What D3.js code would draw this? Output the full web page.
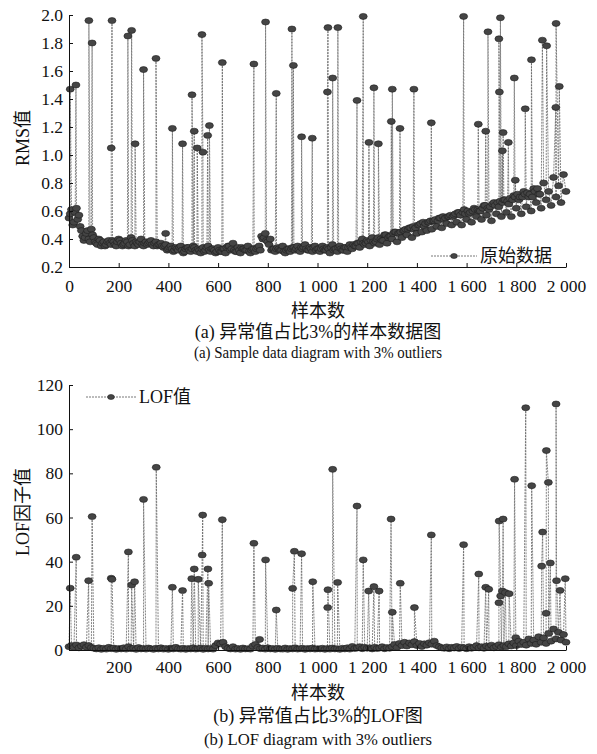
<!DOCTYPE html>
<html>
<head>
<meta charset="utf-8">
<script src="https://cdn.jsdelivr.net/npm/d3@7"></script>
<style>
    body { margin: 0; background: #fff; }
    svg text { font-family: "Liberation Serif", "Times New Roman", "Noto Sans CJK SC", serif; fill: #111; }
</style>
</head>
<body>
<svg id="chart" width="597" height="754"></svg>
<script>
// Baseline RMS values, one every 10 samples (0..2000)
const rmsBase = [
    0.55, 0.61, 0.52, 0.62, 0.57, 0.46, 0.39, 0.44, 0.40, 0.47, 0.41,
    0.37, 0.40, 0.35, 0.38, 0.36,
    0.39, 0.36, 0.38, 0.35, 0.40, 0.37, 0.36, 0.39, 0.35, 0.41, 0.37, 0.38, 0.36, 0.40, 0.35, 0.38, 0.37, 0.39, 0.35, 0.38, 0.36, 0.37, 0.34,
    0.36, 0.33, 0.35, 0.31, 0.34, 0.32, 0.35, 0.30, 0.33, 0.34, 0.31, 0.35, 0.32, 0.33, 0.30, 0.34, 0.32, 0.35, 0.31, 0.33, 0.30, 0.34,
    0.31, 0.33, 0.30, 0.35, 0.32, 0.37, 0.31, 0.34, 0.30, 0.33, 0.32, 0.35, 0.30, 0.33, 0.31, 0.34, 0.32, 0.40, 0.44, 0.38,
    0.40, 0.33, 0.31, 0.34, 0.32, 0.35, 0.30, 0.33, 0.31, 0.34, 0.32, 0.35, 0.31, 0.33, 0.36, 0.32, 0.34, 0.31, 0.35, 0.33,
    0.31, 0.35, 0.32, 0.34, 0.30, 0.36, 0.33, 0.31, 0.35, 0.32, 0.34, 0.31, 0.36, 0.33, 0.35,
    0.37, 0.34, 0.40, 0.36, 0.39, 0.35, 0.41, 0.37, 0.40, 0.36,
    0.39, 0.43, 0.37, 0.42, 0.40, 0.45, 0.38, 0.44, 0.41, 0.46,
    0.43, 0.48, 0.41, 0.47, 0.44, 0.50, 0.45, 0.49, 0.46, 0.52,
    0.47, 0.53, 0.49, 0.55, 0.48, 0.54, 0.51, 0.56, 0.50, 0.57,
    0.52, 0.59, 0.50, 0.61, 0.54, 0.58, 0.52, 0.62, 0.56, 0.60,
    0.54, 0.64, 0.57, 0.61, 0.53, 0.66, 0.58, 0.63, 0.56, 0.68,
    0.59, 0.65, 0.56, 0.71, 0.62, 0.68, 0.58, 0.74, 0.63, 0.70,
    0.60, 0.76, 0.66, 0.72, 0.62, 0.80, 0.68, 0.74, 0.64, 0.84, 0.70, 0.78, 0.66, 0.86, 0.74
];

// RMS in-between readings, one every 10 samples starting at 5 (fills the band)
const rmsMid = [
    0.58, 0.50, 0.59, 0.54, 0.49, 0.42, 0.41, 0.46, 0.38, 0.43,
    0.38, 0.36, 0.39, 0.37, 0.35, 0.38, 0.37, 0.39, 0.36, 0.38,
    0.39, 0.35, 0.37, 0.38, 0.36, 0.39, 0.35, 0.37, 0.38, 0.36,
    0.37, 0.36, 0.38, 0.36, 0.37, 0.35, 0.36, 0.35, 0.35, 0.32,
    0.34, 0.33, 0.32, 0.33, 0.34, 0.32, 0.31, 0.34, 0.32, 0.33,
    0.34, 0.31, 0.32, 0.33, 0.31, 0.34, 0.32, 0.33, 0.32, 0.31,
    0.32, 0.31, 0.33, 0.34, 0.35, 0.33, 0.32, 0.31, 0.32, 0.34,
    0.33, 0.32, 0.31, 0.32, 0.33, 0.33, 0.35, 0.42, 0.41, 0.39,
    0.36, 0.32, 0.33, 0.33, 0.33, 0.32, 0.31, 0.32, 0.33, 0.33,
    0.34, 0.33, 0.32, 0.34, 0.34, 0.33, 0.32, 0.33, 0.34, 0.32,
    0.33, 0.33, 0.33, 0.32, 0.33, 0.34, 0.32, 0.33, 0.34, 0.33,
    0.32, 0.34, 0.34, 0.34, 0.36, 0.35, 0.37, 0.38, 0.37, 0.37,
    0.38, 0.39, 0.38, 0.38, 0.41, 0.40, 0.39, 0.43, 0.41, 0.42,
    0.44, 0.45, 0.44, 0.45, 0.46, 0.47, 0.47, 0.48, 0.49, 0.48,
    0.50, 0.51, 0.52, 0.51, 0.52, 0.53, 0.53, 0.54, 0.53, 0.55,
    0.56, 0.55, 0.56, 0.57, 0.56, 0.58, 0.59, 0.57, 0.59, 0.58,
    0.60, 0.59, 0.60, 0.61, 0.61, 0.60, 0.62, 0.64, 0.62, 0.63,
    0.65, 0.64, 0.66, 0.67, 0.66, 0.68, 0.67, 0.69, 0.68, 0.70,
    0.72, 0.70, 0.70, 0.72, 0.73, 0.72, 0.70, 0.74, 0.76, 0.72
];

// RMS outliers (sample index, value)
const rmsOutIdx = [5, 28, 80, 93, 170, 173, 237, 252, 266, 300, 350, 389, 416, 457, 495, 504, 516, 535, 539, 558, 565,
    617, 744, 791, 834, 897, 903, 936, 979, 1040, 1042, 1061, 1082, 1159, 1184, 1207, 1227, 1245, 1297, 1301, 1332,
    1388, 1458, 1588, 1647, 1677, 1686, 1730, 1732, 1736, 1744, 1747, 1768, 1792, 1796, 1836, 1861, 1905, 1922, 1959, 1960, 1973];
const rmsOutVal = [1.47, 1.50, 1.96, 1.80, 1.05, 1.96, 1.85, 1.89, 1.08, 1.61, 1.69, 0.44, 1.19, 1.08, 1.43, 1.17, 1.05, 1.86, 1.02, 1.14, 1.21,
    1.66, 1.65, 1.95, 1.44, 1.90, 1.64, 1.13, 1.12, 1.45, 1.91, 1.55, 1.91, 1.39, 1.99, 1.09, 1.48, 1.08, 1.24, 1.47, 1.19,
    1.47, 1.23, 1.99, 1.22, 1.17, 1.88, 1.83, 1.45, 1.98, 1.03, 1.16, 1.09, 1.55, 0.82, 1.33, 1.68, 1.82, 1.78, 1.34, 1.94, 1.49];

// Baseline LOF values, one every 10 samples (0..2000)
const lofBase = [
    1.5, 2.0, 1.2, 2.3, 1.0, 1.8, 2.4, 1.3, 2.0, 1.1, 0.8,
    0.5, 1.0, 0.3, 0.8, 0.4, 1.2, 0.6, 0.9, 0.3, 0.7, 0.5, 1.0, 0.4, 1.5, 0.6, 0.8, 0.3, 1.1, 0.5, 0.7, 0.4, 0.9, 0.6, 0.3,
    0.8, 0.5, 1.0, 0.4, 0.7, 0.3, 0.9, 0.5, 1.2, 0.6, 0.4, 0.8, 0.3, 0.7, 0.5, 1.0, 0.4, 0.6, 0.9, 0.3, 0.8, 0.5, 0.7, 0.4,
    2.0, 3.2, 2.8, 3.5, 1.5,
    0.8, 0.5, 1.5, 0.4, 0.7, 0.3, 0.9, 0.5, 0.6, 0.4, 1.8, 2.5, 1.2, 0.6, 0.9, 0.4, 1.0, 0.5, 0.7, 0.3, 0.8, 0.5, 0.4, 0.9,
    0.3, 0.7, 0.5, 1.0, 0.4, 0.6, 0.8, 0.3, 0.7, 0.5, 0.9, 0.4, 0.6,
    0.5, 0.8, 0.3, 0.7, 0.4, 0.9, 0.5, 0.6, 0.3, 0.8, 0.5, 1.0, 0.4, 1.6, 0.7, 0.9, 1.5, 0.6, 1.2, 0.8, 1.0, 0.5, 1.3, 0.7,
    0.9, 1.5, 0.6, 1.1, 0.8,
    1.5, 2.5, 1.2, 3.0, 2.0, 3.5, 1.8, 3.2, 2.4, 3.8, 2.0, 3.0, 1.6, 2.8, 2.2, 3.3, 2.6, 4.0, 2.0, 1.5, 1.0,
    0.8, 1.4, 0.6, 1.2, 0.9, 1.6, 0.7, 1.3, 1.0, 0.6, 1.5, 0.8, 1.2, 2.0, 1.0, 1.5, 0.8, 1.8, 1.2, 2.2, 1.0, 1.6, 2.4, 1.3, 2.0,
    1.5, 2.8, 1.8, 3.2, 2.0, 4.0, 2.5, 3.5, 2.2, 5.0, 3.0, 4.5, 2.6, 6.0, 3.5, 5.5, 3.0, 7.5, 4.0, 9.5, 5.0, 8.0, 4.5, 7.0, 3.5
];

// LOF outliers (sample index, value)
const lofOutIdx = [5, 29, 79, 93, 170, 173, 239, 252, 264, 300, 351, 416, 457, 494, 504, 520, 536, 538, 559, 562, 617,
    744, 767, 791, 834, 900, 907, 936, 981, 1041, 1042, 1061, 1081, 1159, 1184, 1206, 1227, 1248, 1296, 1301, 1333, 1390,
    1458, 1588, 1649, 1677, 1689, 1730, 1731, 1737, 1744, 1747, 1756, 1771, 1793, 1798, 1838, 1862, 1902, 1906, 1920, 1921,
    1929, 1937, 1960, 1962, 1976, 1997];
const lofOutVal = [28, 42, 31.4, 60.4, 32.5, 32, 44.4, 29.4, 30.9, 68.2, 82.7, 28.4, 26.9, 32.3, 36.7, 32, 43, 61.1, 36.7, 30.2, 59,
    48.3, 4.8, 40.8, 18.1, 27.9, 44.7, 43.6, 30.9, 19.2, 27.3, 81.8, 30.6, 65.2, 40.8, 26.7, 28.7, 26.7, 59.3, 17.1, 30.2, 19.2,
    52.1, 47.7, 34.4, 28.4, 27.5, 21.4, 58.4, 24.5, 26.7, 59.3, 26, 25.5, 77.3, 5.6, 109.7, 74.4, 38, 53.4, 16.6, 90.3,
    75.9, 39.4, 111.4, 31.4, 27, 32.3];

const xTicksTop = [0, 200, 400, 600, 800, 1000, 1200, 1400, 1600, 1800, 2000];
const xTicksBottom = [200, 400, 600, 800, 1000, 1200, 1400, 1600, 1800, 2000];
const rmsTicks = [0.2, 0.4, 0.6, 0.8, 1.0, 1.2, 1.4, 1.6, 1.8, 2.0];
const lofTicks = [0, 20, 40, 60, 80, 100, 120];

const svg = d3.select("#chart");

// merge baseline (+ optional in-between readings) + outliers into one ordered series
function buildSeries(base, mid, outIdx, outVal) {
    const pts = base.map((v, i) => ({ s: i * 10, v: v }));
    mid.forEach((v, i) => pts.push({ s: i * 10 + 5, v: v }));
    outIdx.forEach((s, i) => pts.push({ s: s + 0.01, v: outVal[i] }));
    pts.sort((a, b) => a.s - b.s);
    return pts;
}

const fmtX = d => d >= 1000 ? String(d).replace(/(\d)(\d{3})$/, "$1 $2") : String(d);

function drawMarker(g, cx, cy) {
    g.append("ellipse")
        .attr("cx", cx).attr("cy", cy)
        .attr("rx", 3.4).attr("ry", 2.5)
        .attr("fill", "#454545")
        .attr("stroke", "#222")
        .attr("stroke-width", 0.6);
}

function drawPanel(cfg) {
    const x = d3.scaleLinear().domain([0, 2000]).range([69, 566]);
    const y = d3.scaleLinear().domain(cfg.yDomain).range([cfg.yBottom, cfg.yTop]);
    const g = svg.append("g");
    const data = cfg.data;

    // series line
    g.append("path")
        .datum(data)
        .attr("fill", "none")
        .attr("stroke", "#666")
        .attr("stroke-width", 0.8)
        .attr("stroke-dasharray", "2,1")
        .attr("d", d3.line().x(d => x(d.s)).y(d => y(d.v)));

    // markers
    g.selectAll(".pt")
        .data(data)
        .enter().append("ellipse")
        .attr("class", "pt")
        .attr("cx", d => x(d.s))
        .attr("cy", d => y(d.v))
        .attr("rx", 4)
        .attr("ry", 3)
        .attr("fill", "#454545")
        .attr("stroke", "#1e1e1e")
        .attr("stroke-width", 0.6);

    // x axis
    const xa = g.append("g")
        .attr("transform", `translate(0,${cfg.yBottom})`)
        .call(d3.axisBottom(x).tickValues(cfg.xTicks).tickFormat(fmtX)
            .tickSizeInner(-4).tickSizeOuter(0).tickPadding(cfg.xPad));
    xa.selectAll("text").style("font-size", "17.5px");

    // y axis
    const ya = g.append("g")
        .attr("transform", "translate(69,0)")
        .call(d3.axisLeft(y).tickValues(cfg.yTicks).tickFormat(cfg.yFmt)
            .tickSizeInner(-4).tickSizeOuter(0).tickPadding(6));
    ya.selectAll("text").style("font-size", "17.5px");
    g.selectAll(".domain").attr("stroke", "#111");
    g.selectAll(".tick line").attr("stroke", "#111");

    // axis titles
    g.append("text")
        .attr("transform", `translate(29,${cfg.yTitleY}) rotate(-90)`)
        .attr("text-anchor", "middle")
        .style("font-size", "18px")
        .text(cfg.yTitle);
    g.append("text")
        .attr("x", 318).attr("y", cfg.xTitleY)
        .attr("text-anchor", "middle")
        .style("font-size", "18px")
        .text("样本数");
    g.append("text")
        .attr("x", 318).attr("y", cfg.cap1Y)
        .attr("text-anchor", "middle")
        .style("font-size", "18px")
        .text(cfg.cap1);
    g.append("text")
        .attr("x", 318).attr("y", cfg.cap2Y)
        .attr("text-anchor", "middle")
        .attr("textLength", cfg.cap2W)
        .attr("lengthAdjust", "spacingAndGlyphs")
        .style("font-size", "17px")
        .text(cfg.cap2);

    // legend
    const lg = g.append("g");
    lg.append("line")
        .attr("x1", cfg.legX1).attr("x2", cfg.legX2)
        .attr("y1", cfg.legY).attr("y2", cfg.legY)
        .attr("stroke", "#555").attr("stroke-width", 0.8)
        .attr("stroke-dasharray", "2,1");
    drawMarker(lg, (cfg.legX1 + cfg.legX2) / 2, cfg.legY);
    lg.append("text")
        .attr("x", cfg.legX2 + 3).attr("y", cfg.legY + 6)
        .style("font-size", "18px")
        .text(cfg.legText);
}

drawPanel({
    data: buildSeries(rmsBase, rmsMid, rmsOutIdx, rmsOutVal),
    yDomain: [0.2, 2.0], yBottom: 267, yTop: 15,
    xTicks: xTicksTop, yTicks: rmsTicks, yFmt: d3.format(".1f"), xPad: 13,
    yTitle: "RMS值", yTitleY: 138,
    xTitleY: 317, cap1Y: 338, cap1: "(a) 异常值占比3%的样本数据图",
    cap2Y: 358, cap2: "(a) Sample data diagram with 3% outliers", cap2W: 248,
    legX1: 431, legX2: 477, legY: 256, legText: "原始数据"
});

drawPanel({
    data: buildSeries(lofBase, [], lofOutIdx, lofOutVal),
    yDomain: [0, 120], yBottom: 650, yTop: 385,
    xTicks: xTicksBottom, yTicks: lofTicks, yFmt: d3.format("d"), xPad: 11,
    yTitle: "LOF因子值", yTitleY: 512,
    xTitleY: 699, cap1Y: 722, cap1: "(b) 异常值占比3%的LOF图",
    cap2Y: 745, cap2: "(b) LOF diagram with 3% outliers", cap2W: 228,
    legX1: 86, legX2: 136, legY: 397, legText: "LOF值"
});
</script>
</body>
</html>
